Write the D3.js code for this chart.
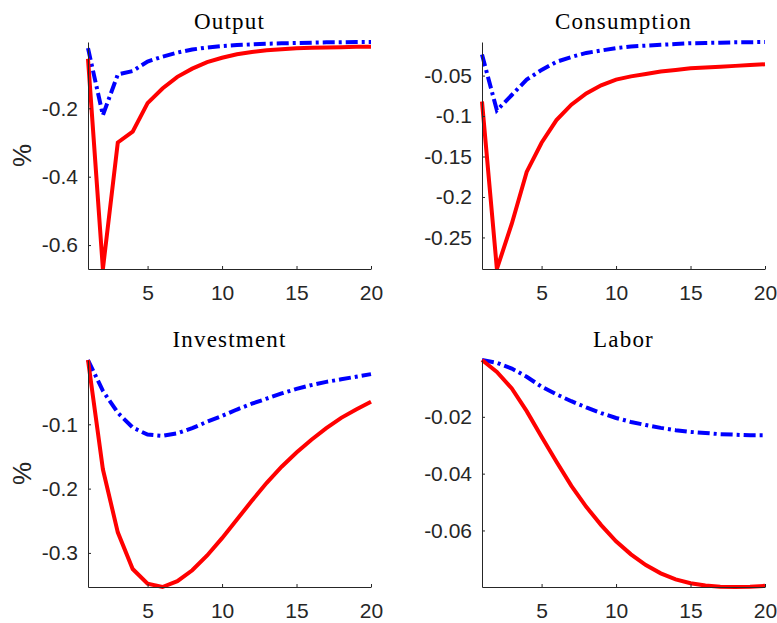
<!DOCTYPE html>
<html lang="en">
<head>
  <meta charset="UTF-8" />
  <title>Impulse responses</title>
  <script src="https://d3js.org/d3.v7.min.js"></script>
  <style>
    body { margin: 0; background: #fff; }
    svg { display: block; }
    .axis path, .axis line { stroke: #262626; stroke-width: 1; }
    .axis text { font-family: "Liberation Sans", Arial, sans-serif; font-size: 21px; fill: #262626; }
    .title { font-family: "Liberation Serif", "Times New Roman", serif; font-size: 23px; letter-spacing: 1.2px; fill: #000; }
    .ylabel { font-family: "Liberation Sans", Arial, sans-serif; font-size: 26px; fill: #262626; }
    .line-solid { stroke: #ff0000; stroke-width: 4; fill: none; }
    .line-dashdot { stroke: #0000ff; stroke-width: 4; fill: none; stroke-dasharray: 12,4,3,4; }
  </style>
</head>
<body>
  <svg width="777" height="623"></svg>

  <script>
    // horizon (quarters)
    const periods = [1, 2, 3, 4, 5, 6, 7, 8, 9, 10, 11, 12, 13, 14, 15, 16, 17, 18, 19, 20];
    const xTicks = [5, 10, 15, 20];

    // Output
    const outputSolid = [-0.055, -0.670, -0.300, -0.268, -0.185, -0.142, -0.108, -0.084, -0.065, -0.052,
                         -0.042, -0.035, -0.030, -0.027, -0.024, -0.023, -0.022, -0.021, -0.020, -0.020];
    const outputDashDot = [-0.024, -0.220, -0.101, -0.091, -0.063, -0.049, -0.037, -0.028, -0.022, -0.018,
                           -0.015, -0.013, -0.011, -0.010, -0.009, -0.008, -0.007, -0.007, -0.006, -0.006];

    // Consumption
    const consSolid = [-0.082, -0.289, -0.233, -0.169, -0.133, -0.105, -0.086, -0.072, -0.062, -0.055,
                       -0.051, -0.048, -0.045, -0.043, -0.041, -0.040, -0.039, -0.038, -0.037, -0.036];
    const consDashDot = [-0.024, -0.093, -0.074, -0.055, -0.043, -0.033, -0.027, -0.022, -0.019, -0.016,
                         -0.014, -0.013, -0.012, -0.011, -0.010, -0.0097, -0.0093, -0.0089, -0.0087, -0.0085];

    // Investment
    const invSolid = [0, -0.170, -0.268, -0.325, -0.348, -0.353, -0.344, -0.327, -0.304, -0.277,
                      -0.248, -0.219, -0.191, -0.166, -0.144, -0.124, -0.106, -0.090, -0.077, -0.065];
    const invDashDot = [0, -0.048, -0.082, -0.105, -0.116, -0.118, -0.114, -0.106, -0.096, -0.087,
                        -0.077, -0.068, -0.060, -0.052, -0.045, -0.039, -0.034, -0.030, -0.026, -0.022];

    // Labor
    const laborSolid = [0, -0.0042, -0.0100, -0.0180, -0.0270, -0.0358, -0.0443, -0.0517, -0.0581, -0.0638,
                        -0.0684, -0.0722, -0.0751, -0.0772, -0.0786, -0.0794, -0.0798, -0.0799, -0.0798, -0.0795];
    const laborDashDot = [0, -0.0010, -0.0030, -0.0059, -0.0094, -0.0121, -0.0145, -0.0167, -0.0187, -0.0204,
                          -0.0218, -0.0229, -0.0239, -0.0247, -0.0253, -0.0257, -0.0261, -0.0263, -0.0265, -0.0265];

    const titles = ["Output", "Consumption", "Investment", "Labor"];
    const yTicks = [
      [-0.6, -0.4, -0.2],
      [-0.25, -0.2, -0.15, -0.1, -0.05],
      [-0.3, -0.2, -0.1],
      [-0.06, -0.04, -0.02]
    ];

    const panels = [
      { solid: outputSolid, dashdot: outputDashDot, left: 88, top: 42, ylabel: true },
      { solid: consSolid, dashdot: consDashDot, left: 482, top: 42, ylabel: false },
      { solid: invSolid, dashdot: invDashDot, left: 88, top: 360, ylabel: true },
      { solid: laborSolid, dashdot: laborDashDot, left: 482, top: 360, ylabel: false }
    ];
    const pw = 283, ph = 227;

    const svg = d3.select("svg");
    const fmt = d => String(+d.toFixed(3));

    panels.forEach((p, i) => {
      const g = svg.append("g").attr("transform", `translate(${p.left},${p.top})`);

      const x = d3.scaleLinear().domain([1, 20]).range([0, pw]);
      const yExt = d3.extent(p.solid.concat(p.dashdot));
      const y = d3.scaleLinear().domain(yExt).range([ph, 0]);

      const line = d3.line()
        .x((d, j) => x(periods[j]))
        .y(d => y(d));

      g.append("path").datum(p.dashdot).attr("class", "line-dashdot").attr("d", line);
      g.append("path").datum(p.solid).attr("class", "line-solid").attr("d", line);

      g.append("g")
        .attr("class", "axis")
        .attr("transform", `translate(0,${ph})`)
        .call(d3.axisBottom(x).tickValues(xTicks).tickSizeInner(-3).tickSizeOuter(0).tickPadding(16))
        .call(a => a.selectAll("text").attr("font-family", null).attr("font-size", null));

      g.append("g")
        .attr("class", "axis")
        .call(d3.axisLeft(y).tickValues(yTicks[i]).tickFormat(fmt).tickSizeInner(-3).tickSizeOuter(0).tickPadding(10))
        .call(a => a.selectAll("text").attr("font-family", null).attr("font-size", null));

      g.append("text")
        .attr("class", "title")
        .attr("x", pw / 2)
        .attr("y", -13)
        .attr("text-anchor", "middle")
        .text(titles[i]);

      if (p.ylabel) {
        g.append("text")
          .attr("class", "ylabel")
          .attr("transform", `translate(${31 - p.left},${ph / 2}) rotate(-90)`)
          .attr("text-anchor", "middle")
          .text("%");
      }
    });
  </script>
</body>
</html>
